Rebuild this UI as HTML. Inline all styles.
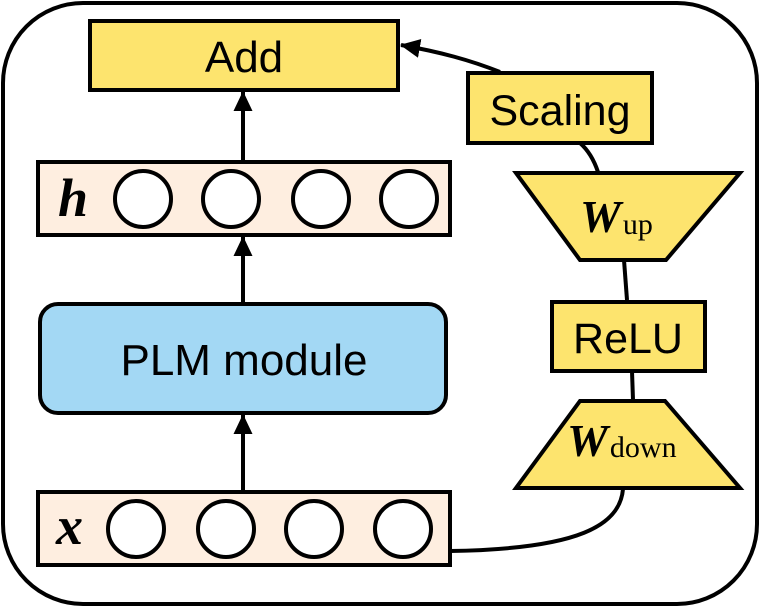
<!DOCTYPE html>
<html><head><meta charset="utf-8"><style>
html,body{margin:0;padding:0;background:#fff;}
svg{display:block;}
.s{font-family:"Liberation Sans",sans-serif;}
.m{font-family:"Liberation Serif",serif;}
</style></head><body>
<svg width="761" height="609" viewBox="0 0 761 609" xmlns="http://www.w3.org/2000/svg">
<defs>
<marker id="b" viewBox="0 0 20 20" markerWidth="20" markerHeight="20" refX="19" refY="10" orient="auto" markerUnits="userSpaceOnUse"><path d="M0,0.5 L20,10 L0,19.5 z" fill="#000"/></marker></defs>
<rect x="3" y="3" width="754" height="601" rx="80" fill="#fff" stroke="#000" stroke-width="4"/>
<g stroke="#000" stroke-width="4" fill="none">
<line x1="243" y1="491" x2="243" y2="415" marker-end="url(#b)"/>
<line x1="243" y1="303" x2="243" y2="237" marker-end="url(#b)"/>
<line x1="243" y1="161" x2="243" y2="92" marker-end="url(#b)"/>
<path d="M450 551 C 580 549, 620 525, 623 489"/>
<line x1="633" y1="400" x2="632" y2="371"/>
<line x1="627" y1="300" x2="624" y2="260"/>
<path d="M598 172 C 594 160, 588 150, 580 143"/>
<path d="M500 72 C 470 60, 440 52, 401 45" marker-end="url(#b)"/>
</g>
<rect x="90" y="21" width="308" height="69" fill="#fde46e" stroke="#000" stroke-width="4"/>
<text x="244" y="72" text-anchor="middle" class="s" font-size="44">Add</text>
<rect x="468" y="73" width="184" height="70" fill="#fde46e" stroke="#000" stroke-width="4"/>
<text x="560" y="125" text-anchor="middle" class="s" font-size="43">Scaling</text>
<polygon points="516,173 740,173 666,260 580,260" fill="#fde46e" stroke="#000" stroke-width="4"/>
<text x="580" y="232" class="m" font-size="46" font-weight="bold" font-style="italic">W<tspan font-size="30" font-weight="normal" font-style="normal" dx="2" dy="2">up</tspan></text>
<rect x="552" y="302" width="153" height="69" fill="#fde46e" stroke="#000" stroke-width="4"/>
<text x="628" y="353" text-anchor="middle" class="s" font-size="43">ReLU</text>
<polygon points="580,401 665,401 740,488 516,488" fill="#fde46e" stroke="#000" stroke-width="4"/>
<text x="567" y="456" class="m" font-size="46" font-weight="bold" font-style="italic">W<tspan font-size="30" font-weight="normal" font-style="normal" dx="2" dy="1">down</tspan></text>
<rect x="38" y="162" width="412" height="73" fill="#feeee0" stroke="#000" stroke-width="4"/>
<text x="58" y="216" class="m" font-size="54" font-weight="bold" font-style="italic">h</text>
<g fill="#fff" stroke="#000" stroke-width="4">
<circle cx="143" cy="199" r="28"/><circle cx="231" cy="199" r="28"/><circle cx="321" cy="199" r="28"/><circle cx="409" cy="199" r="28"/>
</g>
<rect x="40" y="304" width="406" height="109" rx="18" fill="#a3d8f4" stroke="#000" stroke-width="4"/>
<text x="244" y="375" text-anchor="middle" class="s" font-size="44">PLM module</text>
<rect x="38" y="492" width="412" height="73" fill="#feeee0" stroke="#000" stroke-width="4"/>
<text x="56" y="544" class="m" font-size="54" font-weight="bold" font-style="italic">x</text>
<g fill="#fff" stroke="#000" stroke-width="4">
<circle cx="136" cy="529" r="28"/><circle cx="226" cy="529" r="28"/><circle cx="314" cy="529" r="28"/><circle cx="403" cy="529" r="28"/>
</g>
</svg>
</body></html>
